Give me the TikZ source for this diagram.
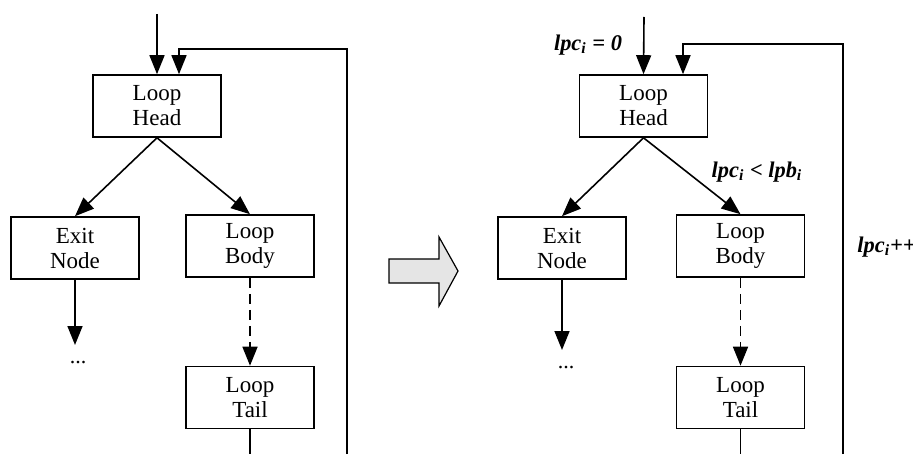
\documentclass[tikz,border=0pt]{standalone}
\usepackage{fontspec}
\setmainfont{Liberation Serif}
\usetikzlibrary{arrows.meta}
\tikzset{
  block/.style={ % a basic block of the loop
    draw, rectangle, line width=0.8pt, align=center,
    minimum width=64pt, minimum height=31pt, inner sep=0pt,
    font=\fontsize{11.5}{12.5}\selectfont
  },
  flow/.style={ % a control flow edge
    line width=0.8pt, -{Triangle[length=9.5pt,width=7.5pt]}
  },
  cond/.style={ % annotation of the loop counter
    font=\fontsize{11.2}{12.5}\selectfont\bfseries\itshape, inner sep=0pt
  },
  bigarrow/.style={ % the transformation arrow
    draw, line width=0.6pt, fill=black!10
  }
}

\begin{document}
\begin{tikzpicture}[x=0.5pt, y=-0.5pt]
  \useasboundingbox (0,0) rectangle (913,454);

  % original loop
  \node[block] (head) at (157,106) {Loop\\Head};
  \node[block] (exit) at (75,248) {Exit\\Node};
  \node[block] (body) at (250,246) {Loop\\Body};
  \node[block] (tail) at (250,397.5) {Loop\\Tail};
  \node[anchor=base, font=\fontsize{11}{12.5}\selectfont] (dots) at (78,363) {...};
  \coordinate (entry) at (157,14);
  \coordinate (exitout) at (75,345);
  \coordinate (tailout) at (250,454);
  \coordinate (latch) at (347,454);

  \draw[flow] (entry) -- (head.north);
  \draw[flow] (head.south) -- (exit.north);
  \draw[flow] (head.south) -- (body.north);
  \draw[flow] (exit.south) -- (exitout);
  \draw[flow, dash pattern=on 5pt off 3pt] (body.south) -- (tail.north);
  \draw[line width=0.8pt] (tail.south) -- (tailout);
  \draw[flow] (latch) |- ([xshift=11pt, yshift=12.5pt]head.north) -- ([xshift=11pt]head.north);

  % transformation
  \draw[bigarrow] (389,259) -- (439,259) -- (439,237) -- (458,271)
    -- (439,306) -- (439,283) -- (389,283) -- cycle;

  % instrumented loop
  \node[block] (headR) at (643.5,106) {Loop\\Head};
  \node[block] (exitR) at (562,248) {Exit\\Node};
  \node[block] (bodyR) at (740.5,246) {Loop\\Body};
  \node[block] (tailR) at (740.5,397.5) {Loop\\Tail};
  \node[anchor=base, font=\fontsize{11}{12.5}\selectfont] (dotsR) at (566,368) {...};
  \coordinate (entryR) at (644,17);
  \coordinate (exitoutR) at (562,350);
  \coordinate (tailoutR) at (740.5,454);
  \coordinate (latchR) at (843,454);

  \draw[flow] (entryR) -- (headR.north);
  \draw[flow] (headR.south) -- (exitR.north);
  \draw[flow] (headR.south) -- (bodyR.north);
  \draw[flow] (exitR.south) -- (exitoutR);
  \draw[flow, dash pattern=on 5pt off 3pt] (bodyR.south) -- (tailR.north);
  \draw[line width=0.8pt] (tailR.south) -- (tailoutR);
  \draw[flow] (latchR) |- ([xshift=19.75pt, yshift=15pt]headR.north) -- ([xshift=19.75pt]headR.north);

  \node[cond] (init) at (588,45) {lpc\textsubscript{i} = 0};
  \node[cond] (test) at (757,172) {lpc\textsubscript{i} < lpb\textsubscript{i}};
  \node[cond, anchor=west] (incr) at (857,247) {lpc\textsubscript{i}++};
\end{tikzpicture}
\end{document}
